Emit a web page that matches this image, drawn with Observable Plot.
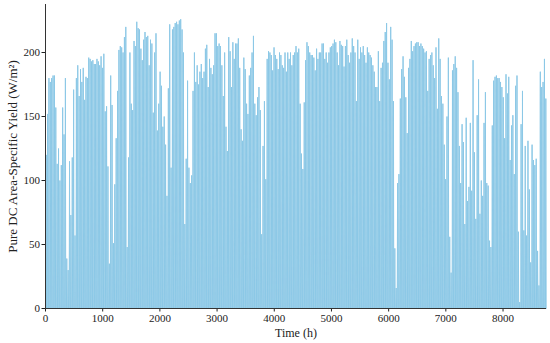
<!DOCTYPE html>
<html><head><meta charset="utf-8">
<script src="https://cdn.jsdelivr.net/npm/d3@7"></script>
<script src="https://cdn.jsdelivr.net/npm/@observablehq/plot@0.6"></script>
<style>body{margin:0;background:#fff} svg, svg text{font-family:"Liberation Serif","Times New Roman",serif !important;}</style>
</head><body><div id="chart"></div>
<script>
// Daily peak of the hourly yield (W/m²), day 0 … 364
const dailyPeaks = [
120,152,180,177,180,182,182,157,113,125,
100,112,157,136,180,39,30,115,73,118,
171,57,180,190,166,187,177,188,163,181,
180,196,195,193,194,191,191,195,193,190,
197,188,199,154,158,111,35,182,159,51,
97,133,170,202,205,204,200,212,220,48,
118,
200,160,155,209,205,224,219,218,203,194,
210,216,212,213,190,210,207,153,200,215,
139,160,185,174,142,150,128,88,172,222,
110,218,220,223,224,222,225,226,218,200,
66,117,178,110,98,104,170,200,177,190,
175,185,191,180,185,203,206,173,195,
188,183,190,215,215,205,207,205,190,166,
200,142,123,212,201,173,208,195,207,207,
211,188,140,131,196,187,160,152,182,188,
200,213,160,151,165,173,155,58,127,162,
101,195,201,200,198,186,204,198,195,187,
200,198,190,188,200,185,200,195,200,190,
198,
200,205,200,203,160,121,109,161,194,208,
205,200,198,198,196,186,203,195,200,200,
207,207,195,200,192,200,204,205,207,210,
208,200,190,209,206,205,189,205,210,198,
192,200,211,205,200,162,210,195,204,200,
205,198,192,204,200,198,196,190,185,173,
173,201,162,188,192,209,216,223,192,179,
220,210,162,47,16,98,105,164,187,197,
181,165,137,188,195,209,201,205,207,208,
208,205,207,205,203,200,201,170,195,198,
200,190,180,204,156,211,195,166,160,128,
101,150,196,56,28,186,191,197,188,169,
127,
98,144,130,66,149,84,95,145,92,
194,122,70,151,179,74,100,88,145,169,
98,96,53,48,143,178,181,182,180,180,
177,173,165,133,183,168,181,116,143,151,
105,174,182,60,5,144,170,61,127,57,
131,93,36,128,116,112,117,45,18,185,
173,177,195,164
];
const xTicks = [0,1000,2000,3000,4000,5000,6000,7000,8000];
const yTicks = [0,50,100,150,200];
const xLabel = "Time (h)";
const yLabel = "Pure DC Area-Specific Yield (W/m²)";

// hourly table: night zero, midday peak, night zero for each day
const hourly = dailyPeaks.flatMap((p, d) => [
  {t: d * 24 + 6, v: 0},
  {t: d * 24 + 12, v: p},
  {t: d * 24 + 18, v: 0}
]);

const font = "Liberation Serif";
const chart = Plot.plot({
  width: 550, height: 343,
  marginLeft: 45, marginRight: 4, marginTop: 4, marginBottom: 35,
  x: {domain: [0, 8760]},
  y: {domain: [0, 237.5]},
  style: {fontFamily: font, fontSize: "11px", color: "#222", background: "#fff"},
  marks: [
    Plot.line(hourly, {x: "t", y: "v", stroke: "#8cc8e6", strokeWidth: 1}),
    Plot.axisX({ticks: xTicks, tickSize: 3.5, tickPadding: 2, tickFormat: d => String(d), label: null, fontFamily: font, fontSize: 11}),
    Plot.axisY({ticks: yTicks, tickSize: 3.5, tickPadding: 2, label: null, fontFamily: font, fontSize: 11}),
    Plot.ruleX([0], {stroke: "#333"}),
    Plot.ruleY([0], {stroke: "#333"}),
    Plot.text([xLabel], {frameAnchor: "bottom", lineAnchor: "middle", dy: 25, fontSize: 12, fontFamily: font, fill: "#222"}),
    Plot.text([yLabel], {frameAnchor: "left", textAnchor: "middle", lineAnchor: "middle", rotate: -90, dx: -33, fontSize: 13, fontFamily: font, fill: "#222"})
  ]
});
document.getElementById("chart").appendChild(chart);
</script>
</body></html>
